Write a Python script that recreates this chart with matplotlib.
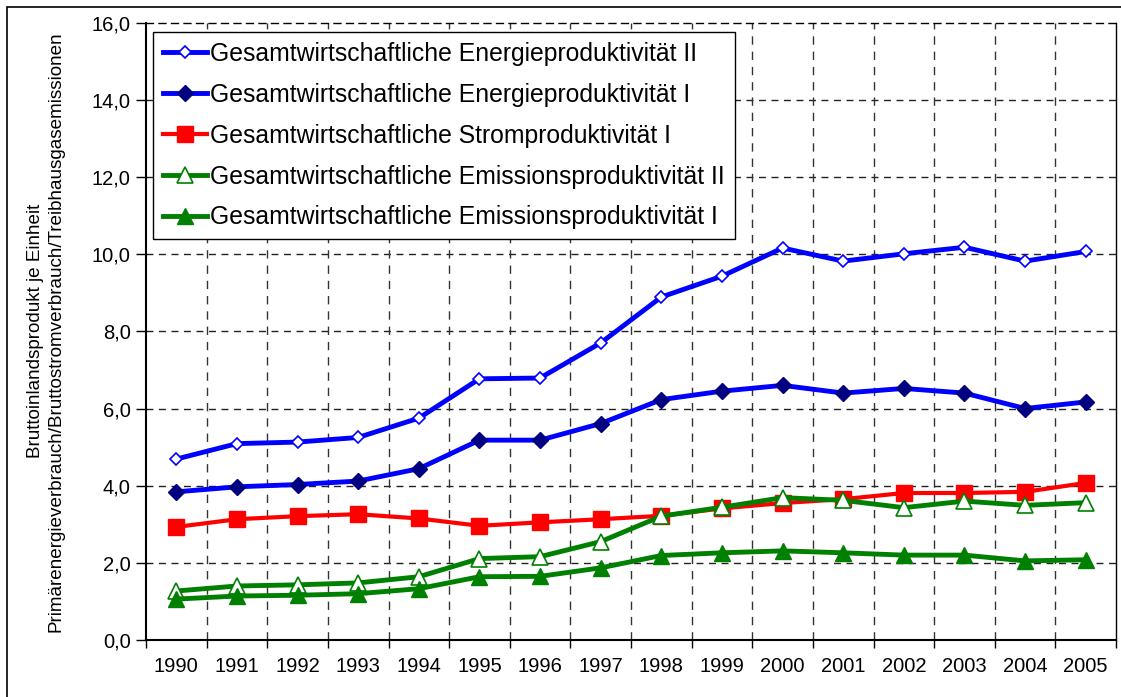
import matplotlib
matplotlib.use('Agg')
import matplotlib.pyplot as plt
from matplotlib.patches import Rectangle
from matplotlib.ticker import FixedLocator, FuncFormatter

# --- Daten ---
jahre = ["1990", "1991", "1992", "1993", "1994", "1995", "1996", "1997",
         "1998", "1999", "2000", "2001", "2002", "2003", "2004", "2005"]
energie_2 = [4.69, 5.09, 5.13, 5.25, 5.75, 6.77, 6.79, 7.70,
             8.89, 9.43, 10.16, 9.82, 10.01, 10.18, 9.82, 10.07]
energie_1 = [3.84, 3.97, 4.03, 4.12, 4.44, 5.18, 5.18, 5.61,
             6.23, 6.45, 6.60, 6.40, 6.52, 6.40, 6.00, 6.17]
strom_1 = [2.93, 3.13, 3.21, 3.26, 3.15, 2.96, 3.05, 3.13,
           3.22, 3.41, 3.55, 3.65, 3.81, 3.81, 3.84, 4.07]
emission_2 = [1.27, 1.40, 1.43, 1.48, 1.64, 2.11, 2.16, 2.55,
              3.21, 3.44, 3.69, 3.62, 3.43, 3.60, 3.49, 3.56]
emission_1 = [1.06, 1.14, 1.16, 1.20, 1.33, 1.64, 1.65, 1.87,
              2.19, 2.26, 2.31, 2.26, 2.20, 2.20, 2.05, 2.08]

labels = ["Gesamtwirtschaftliche Energieproduktivität II",
          "Gesamtwirtschaftliche Energieproduktivität I",
          "Gesamtwirtschaftliche Stromproduktivität I",
          "Gesamtwirtschaftliche Emissionsproduktivität II",
          "Gesamtwirtschaftliche Emissionsproduktivität I"]

plt.rcParams['font.family'] = ['Liberation Sans', 'DejaVu Sans']

W, H = 1121, 697
fig = plt.figure(figsize=(W / 100, H / 100), dpi=100)
ax = fig.add_axes([146 / W, 1 - 640 / H, 970 / W, 617.3 / H])

x = list(range(len(jahre)))
dash = (0, (5, 4))

ax.plot(x, energie_2, color='#0000FF', lw=3.5, marker='D', ms=6,
        mfc='white', mec='#0000FF', mew=1.2, label=labels[0], zorder=3)
ax.plot(x, energie_1, color='#0000FF', lw=3.5, marker='D', ms=8.5,
        mfc='#000080', mec='#000080', mew=1, label=labels[1], zorder=3)
ax.plot(x, strom_1, color='#FF0000', lw=3, marker='s', ms=11,
        mfc='#FF0000', mec='#FF0000', label=labels[2], zorder=3)
ax.plot(x, emission_2, color='#008000', lw=3.5, marker='^', ms=11,
        mfc='white', mec='#008000', mew=1.2, label=labels[3], zorder=3)
ax.plot(x, emission_1, color='#008000', lw=3.5, marker='^', ms=11,
        mfc='#008000', mec='#008000', label=labels[4], zorder=3)

ax.set_xlim(-0.5, len(jahre) - 0.5)
ax.set_ylim(0, 16)

# Achsen / Ticks
ax.set_yticks([0, 2, 4, 6, 8, 10, 12, 14, 16])
ax.yaxis.set_major_formatter(FuncFormatter(lambda v, p: f"{v:.1f}".replace('.', ',')))
ax.set_xticks(x)
ax.set_xticklabels(jahre)
ax.xaxis.set_minor_locator(FixedLocator([i - 0.5 for i in range(len(jahre) + 1)]))
ax.tick_params(axis='x', which='major', length=0, pad=12, labelsize=14.5)
ax.tick_params(axis='x', which='minor', length=6, width=1, direction='out')
ax.tick_params(axis='y', length=7, width=1, direction='out', pad=4, labelsize=14.5)

# Gitter
for v in [2, 4, 6, 8, 10, 12, 14]:
    ax.axhline(v, color='#222222', lw=1, ls=dash, zorder=1)
for i in range(len(jahre) - 1):
    ax.axvline(i + 0.5, color='#333333', lw=1, ls=(0, (6, 5)), zorder=1)

for s in ['left', 'bottom']:
    ax.spines[s].set_linewidth(1.5)
ax.spines['right'].set_linewidth(1)
ax.spines['top'].set_linewidth(1)
ax.spines['top'].set_linestyle(dash)

ax.set_ylabel("Bruttoinlandsprodukt je Einheit\n"
              "Primärenergieverbrauch/Bruttostromverbrauch/Treibhausgasemissionen",
              fontsize=13.6, linespacing=1.3)
ax.yaxis.set_label_coords(-0.084, 0.5)

leg = ax.legend(loc='upper left', bbox_to_anchor=(7 / 970, 1 - 9.5 / 617.3),
                borderaxespad=0, fontsize=17.8, frameon=True, fancybox=False,
                edgecolor='black', framealpha=1, numpoints=1,
                handlelength=1.8, handletextpad=0.12, labelspacing=0.68,
                borderpad=0.4)
leg.get_frame().set_linewidth(1)
leg.set_zorder(5)

# Rahmen um das Diagramm
fig.patches.append(Rectangle((7 / W, -0.1), 1.2, 1.1 - 7 / H, transform=fig.transFigure,
                             fill=False, edgecolor='black', lw=1.2))

fig.savefig('out.png', dpi=100)
plt.close(fig)
